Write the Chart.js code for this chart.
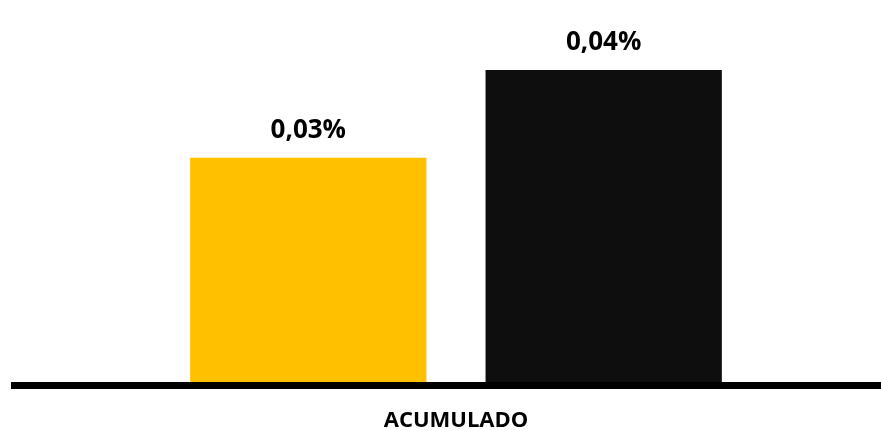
<!DOCTYPE html>
<html>
<head>
<meta charset="utf-8">
<script src="https://cdn.jsdelivr.net/npm/chart.js@4.4.1/dist/chart.umd.min.js"></script>
<style>
  html, body { margin: 0; padding: 0; background: #fff; }
  #wrap { width: 881px; height: 430px; position: relative; }
</style>
</head>
<body>
<div id="wrap"><canvas id="chart"></canvas></div>
<script>
// One category, two series (accumulated %).
const categories = ["ACUMULADO"];
const seriesA = [0.0288];
const seriesB = [0.04];
const colors = ["#FFC000", "#0E0E0E"];

const pct = (v) => v.toFixed(2).replace(".", ",") + "%";

// Value labels above each bar.
const valueLabels = {
  id: "valueLabels",
  afterDatasetsDraw(chart) {
    const ctx = chart.ctx;
    ctx.save();
    ctx.font = "bold 26px 'Open Sans'";
    ctx.fillStyle = "#000";
    ctx.textAlign = "center";
    ctx.textBaseline = "bottom";
    chart.data.datasets.forEach((ds, i) => {
      chart.getDatasetMeta(i).data.forEach((bar, j) => {
        ctx.fillText(pct(ds.data[j]), bar.x, bar.y - 14);
      });
    });
    ctx.restore();
  },
};

// Thick baseline spanning the whole width.
const baseline = {
  id: "baseline",
  afterDatasetsDraw(chart) {
    const ctx = chart.ctx;
    const y = chart.scales.y.getPixelForValue(0);
    ctx.save();
    ctx.fillStyle = "#000";
    ctx.fillRect(11, y - 1, chart.width - 11, 7);
    ctx.restore();
  },
};

new Chart(document.getElementById("chart"), {
  type: "bar",
  data: {
    labels: categories,
    datasets: [
      { data: seriesA, backgroundColor: colors[0] },
      { data: seriesB, backgroundColor: colors[1] },
    ],
  },
  options: {
    responsive: true,
    maintainAspectRatio: false,
    animation: false,
    categoryPercentage: 0.695,
    barPercentage: 0.8,
    layout: { padding: { left: 31, right: 0, top: 20, bottom: 0 } },
    plugins: { legend: { display: false }, tooltip: { enabled: false } },
    scales: {
      x: {
        grid: { display: false },
        border: { display: false },
        ticks: { color: "#000", font: { family: "'Open Sans'", size: 22, weight: "bold" }, padding: 17 },
        afterFit(scale) { scale.height = 47; },
      },
      y: { display: false, min: 0, max: 0.0464 },
    },
  },
  plugins: [valueLabels, baseline],
});
</script>
</body>
</html>
